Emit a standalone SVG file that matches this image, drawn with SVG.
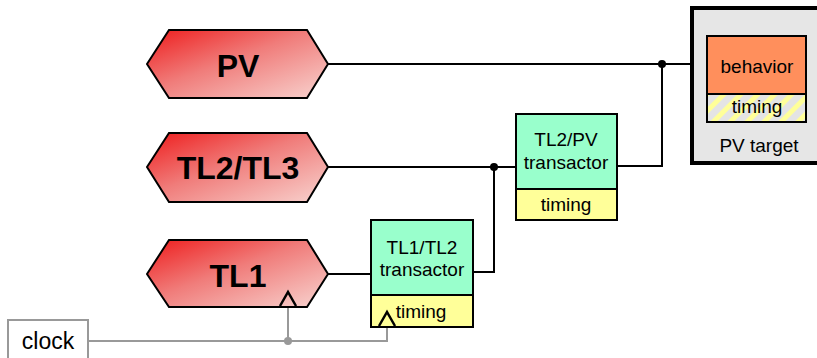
<svg xmlns="http://www.w3.org/2000/svg" width="817" height="358" viewBox="0 0 817 358">
<defs>
<linearGradient id="red" x1="0" y1="0" x2="1" y2="1">
<stop offset="0" stop-color="#ee1c1c"/>
<stop offset="0.45" stop-color="#f07c7a"/>
<stop offset="1" stop-color="#f8d4d0"/>
</linearGradient>
<pattern id="hatch" width="12" height="12" patternUnits="userSpaceOnUse" patternTransform="rotate(45)">
<rect width="12" height="12" fill="#e4e4e4"/>
<rect width="5" height="12" fill="#ffff99"/>
</pattern>
</defs>
<style>
.hex{fill:url(#red);stroke:#000;stroke-width:2}
.big{font-family:"Liberation Sans",Arial,sans-serif;font-weight:bold;font-size:32px;text-anchor:middle}
.t{font-family:"Liberation Sans",Arial,sans-serif;font-size:19px;text-anchor:middle}
.box{stroke:#000;stroke-width:2}
.wire{fill:none;stroke:#000;stroke-width:2}
.clk{fill:none;stroke:#999;stroke-width:2}
.tri{fill:none;stroke:#000;stroke-width:2.5}
</style>
<g id="connectors">
<polyline class="wire" points="328,64 707,64"/>
<polyline class="wire" points="328,167 515,167"/>
<polyline class="wire" points="328,274 371,274"/>
<polyline class="wire" points="473,272 494,272 494,167"/>
<polyline class="wire" points="617,166 662,166 662,64"/>
<circle cx="662" cy="64" r="4"/>
<circle cx="494" cy="167" r="4"/>
<polyline class="clk" points="88,341 387,341 387,327"/>
<polyline class="clk" points="288,341 288,307"/>
<circle cx="288" cy="341" r="4" fill="#999"/>
</g>
<g id="PV">
<polygon class="hex" points="147,64 169,30 307,30 328,64 307,98 169,98"/>
<text class="big" x="238" y="77">PV</text>
</g>
<g id="TL2TL3">
<polygon class="hex" points="147,167 169,133 307,133 328,167 307,202 169,202"/>
<text class="big" x="238" y="179">TL2/TL3</text>
</g>
<g id="TL1">
<polygon class="hex" points="147,274 169,240 307,240 328,274 307,307 169,307"/>
<text class="big" x="238" y="287">TL1</text>
<polyline class="tri" points="280,306 288,292 296,306"/>
</g>
<g id="TL1TL2">
<rect class="box" x="371" y="220" width="102" height="107" fill="#99ffcc"/>
<rect class="box" x="371" y="295" width="102" height="32" fill="#ffff99"/>
<text class="t" x="422" y="254">TL1/TL2</text>
<text class="t" x="422" y="276">transactor</text>
<text class="t" x="421" y="318">timing</text>
<polyline class="tri" points="379,326 387,312 395,326"/>
</g>
<g id="TL2PV">
<rect class="box" x="516" y="114" width="101" height="106" fill="#99ffcc"/>
<rect class="box" x="516" y="189" width="101" height="31" fill="#ffff99"/>
<text class="t" x="566" y="146">TL2/PV</text>
<text class="t" x="566" y="169">transactor</text>
<text class="t" x="566" y="211">timing</text>
</g>
<g id="PVtarget">
<rect x="692" y="8" width="130" height="155" fill="#e6e6e6" stroke="#000" stroke-width="4"/>
<rect class="box" x="707" y="36" width="99" height="86" fill="#ff8f5c"/>
<rect class="box" x="707" y="94" width="99" height="28" fill="url(#hatch)"/>
<text class="t" x="757" y="73">behavior</text>
<text class="t" x="757" y="113">timing</text>
<text class="t" x="759" y="152">PV target</text>
</g>
<g id="clock">
<rect x="8" y="320" width="80" height="50" fill="#fff" stroke="#999" stroke-width="2"/>
<text class="t" x="48" y="349" style="font-size:23px">clock</text>
</g>
</svg>
